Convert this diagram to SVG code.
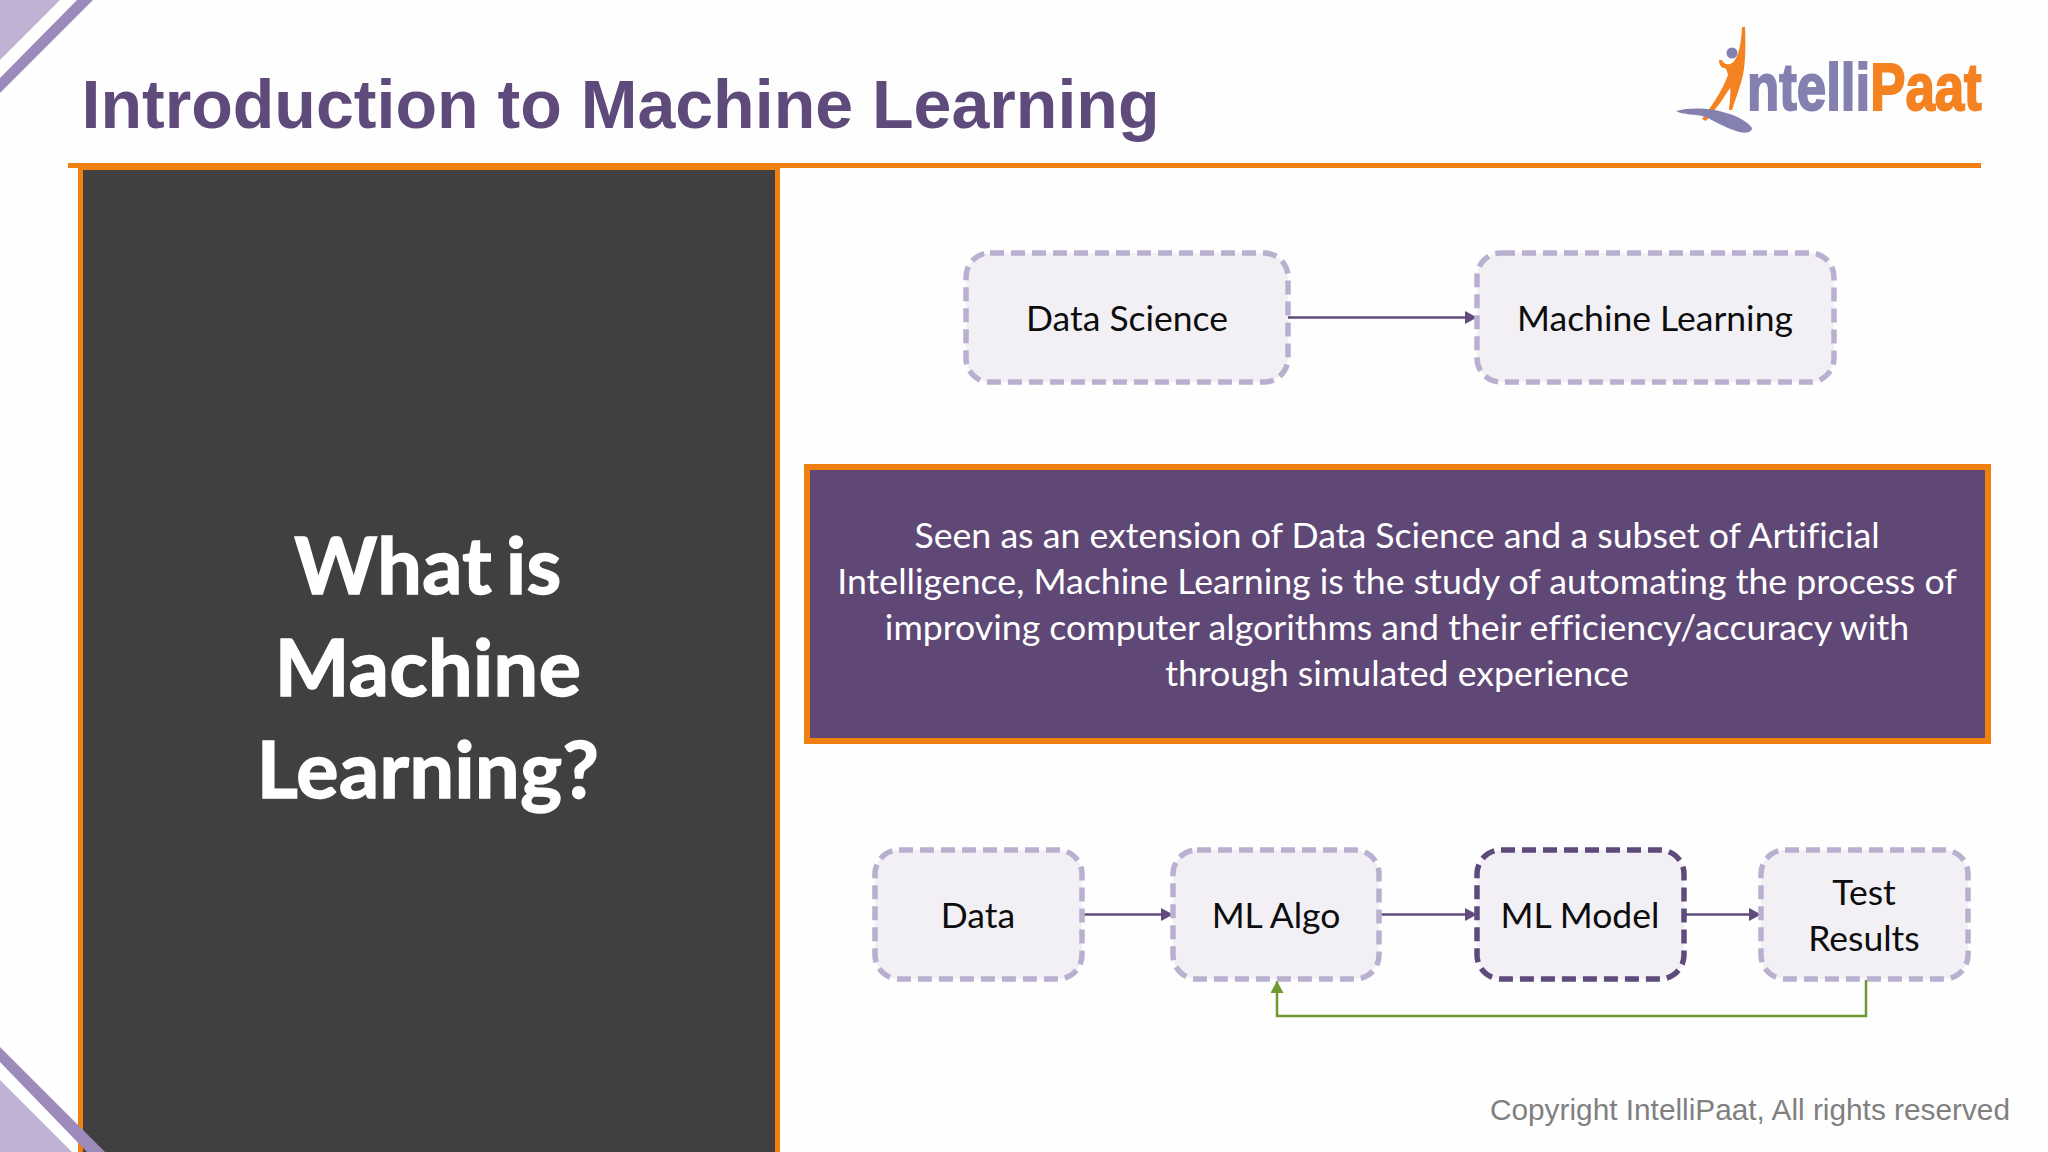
<svg xmlns="http://www.w3.org/2000/svg" width="2048" height="1152" viewBox="0 0 2048 1152">
<style>
.box{fill:#F2F0F5;stroke:#B9B0D0;stroke-width:5.500;stroke-dasharray:14 7}
.dark{stroke:#5E4A7B}
.lbl{font-family:Lato,"Open Sans",sans-serif;font-size:35.500px;fill:#0d0d0d;text-anchor:middle;font-variant-ligatures:none}
.para{font-family:Lato,"Open Sans",sans-serif;font-size:35.700px;fill:#fff;text-anchor:middle;font-variant-ligatures:none}
.head{font-family:Lato,"Open Sans",sans-serif;font-weight:700;font-size:79px;letter-spacing:0.500px;word-spacing:-6px;fill:#fff;stroke:#fff;stroke-width:1.500;text-anchor:middle}
.conn{fill:none;stroke:#5E4A7B;stroke-width:2.500}
.logo{font-family:"Liberation Sans",Arial,sans-serif;font-weight:700;font-size:66px;stroke-width:2}
</style>
<defs>
<marker id="ah" markerUnits="userSpaceOnUse" markerWidth="13" markerHeight="13" refX="12" refY="6.500" orient="auto"><path d="M0 0L12 6.500L0 13Z" fill="#5E4A7B"/></marker>
<marker id="ag" markerUnits="userSpaceOnUse" markerWidth="13" markerHeight="13" refX="12" refY="6.500" orient="auto"><path d="M0 0L12 6.500L0 13Z" fill="#6E9A2E"/></marker>
</defs>
<rect width="2048" height="1152" fill="#FEFEFE"/>
<polygon points="0,0 60,0 0,60" fill="#BFB2D3"/>
<polygon points="77,0 93,0 0,93 0,78" fill="#9C8ABB"/>
<text x="81.500" y="128" font-family="Liberation Sans,Arial,sans-serif" font-weight="700" font-size="68.500" fill="#5E4A7B" textLength="1078" lengthAdjust="spacingAndGlyphs">Introduction to Machine Learning</text>
<g id="logo">
<path d="M1742 27L1745 27C1746 50 1745 65 1743 75C1740 88 1735 100 1732 110L1729 110C1730 100 1731 92 1730 88L1720 103L1706 121L1702 119C1710 108 1722 92 1728 75C1727 70 1726 68 1724 68C1721 68 1719 64 1719 60L1722 60C1723 63 1726 65 1730 64C1737 62 1741 48 1742 27Z" fill="#F58220"/>
<circle cx="1732" cy="53" r="5.500" fill="#8480B0"/>
<path d="M1676 111C1690 107 1712 108 1726 113C1738 116 1748 122 1752 128C1752 133 1744 134 1736 131C1726 128 1716 122 1706 117C1696 114 1682 115 1676 111Z" fill="#8480B0"/>
<text class="logo" transform="translate(1747 110) scale(0.8 1)"><tspan fill="#8480B0" stroke="#8480B0">ntelli</tspan><tspan fill="#F58220" stroke="#F58220">Paat</tspan></text>
</g>
<g id="panel">
<rect x="80.500" y="167.500" width="697" height="990" fill="#404040" stroke="#F0800F" stroke-width="5"/>
<text class="head" x="428" y="594">What is</text>
<text class="head" x="428" y="696">Machine</text>
<text class="head" x="428" y="798">Learning?</text>
</g>
<rect x="68" y="163" width="1913" height="5" fill="#F0800F"/>
<polygon points="0,1047 105,1152 87,1152 0,1062" fill="#9C8ABB"/>
<polygon points="0,1080 72,1152 0,1152" fill="#BFB2D3"/>
<g id="connectors">
<path class="conn" d="M1288 317.500H1477" marker-end="url(#ah)"/>
<path class="conn" d="M1082 914.500H1173" marker-end="url(#ah)"/>
<path class="conn" d="M1379 914.500H1477" marker-end="url(#ah)"/>
<path class="conn" d="M1684 914.500H1761" marker-end="url(#ah)"/>
<path d="M1866 980V1016H1277V981" fill="none" stroke="#6E9A2E" stroke-width="2.500" marker-end="url(#ag)"/>
</g>
<g id="n-data-science"><rect class="box" x="966" y="253" width="322" height="129" rx="24"/><text class="lbl" x="1127" y="331">Data Science</text></g>
<g id="n-machine-learning"><rect class="box" x="1477" y="253" width="357" height="129" rx="24"/><text class="lbl" x="1655" y="331">Machine Learning</text></g>
<g id="n-definition"><rect x="807" y="467" width="1181" height="274" fill="#5F4876" stroke="#F0800F" stroke-width="6"/>
<text class="para" x="1397" y="548">Seen as an extension of Data Science and a subset of Artificial</text>
<text class="para" x="1397" y="594">Intelligence, Machine Learning is the study of automating the process of</text>
<text class="para" x="1397" y="640">improving computer algorithms and their efficiency/accuracy with</text>
<text class="para" x="1397" y="686">through simulated experience</text></g>
<g id="n-data"><rect class="box" x="875" y="850" width="207" height="129" rx="24"/><text class="lbl" x="978" y="928">Data</text></g>
<g id="n-ml-algo"><rect class="box" x="1173" y="850" width="206" height="129" rx="24"/><text class="lbl" x="1276" y="928">ML Algo</text></g>
<g id="n-ml-model"><rect class="box dark" x="1477" y="850" width="207" height="129" rx="24"/><text class="lbl" x="1580" y="928">ML Model</text></g>
<g id="n-test"><rect class="box" x="1761" y="850" width="207" height="129" rx="24"/><text class="lbl" x="1864" y="905">Test</text><text class="lbl" x="1864" y="951">Results</text></g>
<text x="2010" y="1120" text-anchor="end" font-family="Liberation Sans,Arial,sans-serif" font-size="29.800" fill="#808080">Copyright IntelliPaat, All rights reserved</text>
</svg>
